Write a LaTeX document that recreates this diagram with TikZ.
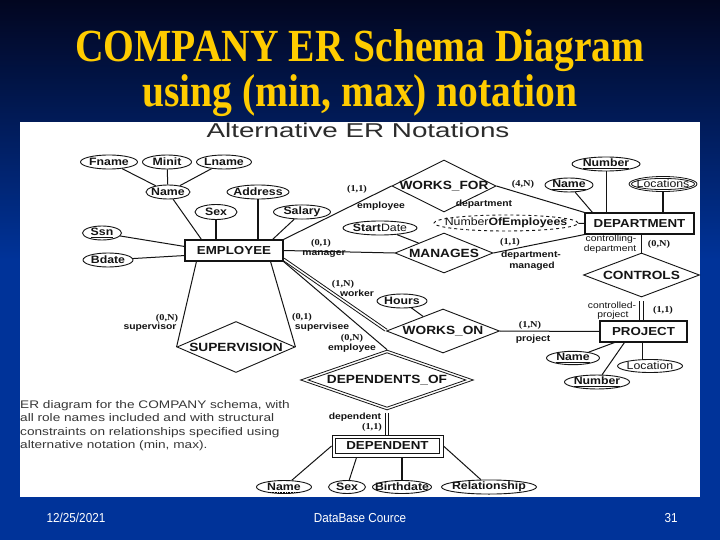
\documentclass[tikz,border=0pt]{standalone}
\usepackage{fontspec}
\setmainfont{Liberation Serif}
\setsansfont{Liberation Sans}
\usetikzlibrary{shapes.geometric}
\definecolor{bgtop}{RGB}{2,6,32}
\definecolor{bgblue}{RGB}{0,51,153}
\definecolor{ttl}{RGB}{255,204,0}
\definecolor{ink}{RGB}{20,20,20}
\newcommand{\hs}[1]{\scalebox{1.15}[1]{#1}}
\newcommand{\zb}[1]{\makebox[0pt]{\hs{#1}}}
\begin{document}
\begin{tikzpicture}[x=1pt,y=-1pt,
  ln/.style={line width=1pt, draw=ink},
  ent/.style={draw=ink, line width=1.1pt, rectangle, inner sep=0, text=ink, font=\sffamily\bfseries\fontsize{11.6}{13}\selectfont},
  rel/.style={draw=ink, line width=0.9pt, diamond, inner sep=0, text=ink, font=\sffamily\bfseries\fontsize{11.9}{13}\selectfont},
  attr/.style={draw=ink, line width=0.9pt, ellipse, inner sep=0, minimum height=14, text=ink, font=\sffamily\bfseries\fontsize{10.7}{12}\selectfont},
  role/.style={inner sep=0, text=ink, font=\sffamily\bfseries\fontsize{9}{10}\selectfont},
  rolen/.style={inner sep=0, text=ink, font=\sffamily\fontsize{9}{10}\selectfont},
  card/.style={inner sep=0, text=ink, font=\rmfamily\bfseries\fontsize{9}{10}\selectfont},
  foot/.style={inner sep=0, text=white, font=\sffamily\fontsize{13}{15}\selectfont}
]
\useasboundingbox (0,0) rectangle (720,540);
% background
\fill[bgblue] (0,0) rectangle (720,540);
\shade[top color=bgtop, bottom color=bgblue] (0,0) rectangle (720,260);
\fill[white] (20,122) rectangle (700,497);

% title
\node[inner sep=0, anchor=base, text=ttl, font=\rmfamily\bfseries\fontsize{46}{50}\selectfont] (t1) at (360,62) {\scalebox{0.86}[1]{COMPANY ER Schema Diagram}};
\node[inner sep=0, anchor=base, text=ttl, font=\rmfamily\bfseries\fontsize{46}{50}\selectfont] (t2) at (360,107) {\scalebox{0.86}[1]{using (min, max) notation}};

% header
\node[inner sep=0, anchor=base, text=ink!90, font=\sffamily\fontsize{20}{22}\selectfont] (hdr) at (358,138) {\scalebox{1.39}[1]{Alternative ER Notations}};

% entities
\node[ent, minimum width=98, minimum height=21] (emp) at (234,250.5) {\zb{EMPLOYEE}};
\node[ent, minimum width=109, minimum height=21] (dept) at (639.5,223.5) {\zb{DEPARTMENT}};
\node[ent, minimum width=87, minimum height=21] (proj) at (643.5,331.5) {\zb{PROJECT}};
\node[ent, line width=0.9pt, minimum width=111, minimum height=22] (dep) at (387.5,446) {};
\node[ent, line width=0.9pt, minimum width=104, minimum height=15] (depi) at (387.5,446) {\zb{DEPENDENT}};

% relationships
\node[rel, minimum width=104, minimum height=52] (wf) at (444,186) {\zb{WORKS\_FOR}};
\node[rel, minimum width=98, minimum height=40] (mg) at (444,253) {\zb{MANAGES}};
\node[rel, minimum width=116, minimum height=44] (ct) at (641.5,275) {\zb{CONTROLS}};
\node[rel, minimum width=113, minimum height=44] (wo) at (443,331) {\zb{WORKS\_ON}};
\node[rel, minimum width=118, minimum height=51] (sv) at (236,347) {\zb{SUPERVISION}};
\node[rel, line width=0.8pt, minimum width=173, minimum height=60] (do) at (387,380) {};
\node[rel, line width=0.8pt, minimum width=158, minimum height=54.7] (doi) at (387,380) {\zb{DEPENDENTS\_OF}};

% attributes
\node[attr, minimum width=57] (fn) at (109,162) {\zb{Fname}};
\node[attr, minimum width=49] (mi) at (167,162) {\zb{Minit}};
\node[attr, minimum width=55] (lnm) at (224,162) {\zb{Lname}};
\node[attr, minimum width=44] (en) at (168,192) {\zb{Name}};
\node[attr, minimum width=62] (ad) at (258,192) {\zb{Address}};
\node[attr, minimum width=42, minimum height=15] (es) at (216,212) {\zb{Sex}};
\node[attr, minimum width=57] (sal) at (302,212) {\zb{Salary}};
\node[attr, minimum width=39] (ssn) at (102,233) {\zb{\underline{Ssn}}};
\node[attr, minimum width=50] (bd) at (108,260) {\zb{Bdate}};
\node[attr, minimum width=68] (dnum) at (606,164) {\zb{\underline{Number}}};
\node[attr, minimum width=48] (dnm) at (569,185) {\zb{\underline{Name}}};
\node[attr, line width=0.8pt, minimum width=68, minimum height=15] (loc) at (663,184) {};
\node[attr, line width=0.8pt, minimum width=63, minimum height=10.5] (loci) at (663,184) {\zb{\mdseries Locations}};
\node[attr, dashed, minimum width=144, minimum height=16] (noe) at (506,223) {\zb{\mdseries Number\bfseries OfEmployees}};
\node[attr, minimum width=74] (sd) at (380,228) {\zb{Start\mdseries Date}};
\node[attr, minimum width=50] (hr) at (402,301) {\zb{Hours}};
\node[attr, minimum width=53, minimum height=13] (pnm) at (573,358) {\zb{\underline{Name}}};
\node[attr, minimum width=65, minimum height=13] (ploc) at (650,366) {\zb{\mdseries Location}};
\node[attr, minimum width=65, minimum height=13] (pnum) at (597,382) {\zb{\underline{Number}}};
\node[attr, minimum width=55, minimum height=13] (dnme) at (284,487) {\zb{Name}};
\node[attr, minimum width=37, minimum height=13] (dsex) at (347,487) {\zb{Sex}};
\node[attr, minimum width=59, minimum height=13] (dbd) at (402,487) {\zb{Birthdate}};
\node[attr, minimum width=95, minimum height=13] (drel) at (489,487) {\zb{Relationship}};
\draw[densely dotted, line width=0.6pt] ([xshift=-14,yshift=-5]dnme.center) -- ([xshift=14,yshift=-5]dnme.center);

% attribute links
\draw[ln] (fn) -- (en);
\draw[ln] (mi) -- (en);
\draw[ln] (lnm) -- (en);
\draw[ln] (en) -- ([xshift=17]emp.north west);
\draw[ln, line width=1.2pt] (es) -- (es |- emp.north);
\draw[ln, line width=1.2pt] (ad) -- (ad |- emp.north);
\draw[ln] (sal) -- ([xshift=-11]emp.north east);
\draw[ln] (ssn) -- ([yshift=-7]emp.north west);
\draw[ln] (bd) -- ([yshift=6]emp.south west);
\draw[ln] (dnm) -- ([xshift=8]dept.north west);
\draw[ln] (dnum) -- (dnum |- dept.north);
\draw[ln, line width=1.2pt] (loc) -- (loc |- dept.north);
\draw[ln] (noe) -- (dept.west);
\draw[ln] (sd) -- (mg);
\draw[ln] (hr) -- (wo);
\draw[ln] (pnm) -- ([xshift=15]proj.south west);
\draw[ln] (pnum) -- ([xshift=25]proj.south west);
\draw[ln, line width=1.2pt] ([xshift=43]proj.south west) -- ([xshift=43]proj.south west |- ploc.north);
\draw[ln] (dep.west) -- (dnme);
\draw[ln] ([xshift=25]dep.south west) -- (dsex);
\draw[ln, line width=1.2pt] (dbd.north |- dep.south) -- (dbd.north);
\draw[ln] (dep.east) -- (drel);

% relationship links
\draw[ln] (emp.north east) -- (wf.west);
\draw[ln] (wf.east) -- (dept.north west);
\draw[ln] (emp.east) -- (mg.west);
\draw[ln] (mg.east) -- (dept.south west);
\draw[ln, line width=1.2pt] (ct) -- (ct |- dept.south);
\draw[ln] ([xshift=-1.7,yshift=-4]ct.south) -- ([xshift=-1.7]ct.south |- proj.north);
\draw[ln] ([xshift=1.7,yshift=-4]ct.south) -- ([xshift=1.7]ct.south |- proj.north);
\draw[ln, line width=0.8pt] ([xshift=-0.4,yshift=1]emp.south east) -- ([xshift=-1.2]wo.west);
\draw[ln, line width=0.8pt] ([xshift=0.6,yshift=3.4]emp.south east) -- ([xshift=1.2,yshift=1.6]wo.west);
\draw[ln] (wo.east) -- (proj.west);
\draw[ln] (emp.south east) -- (do.north);
\draw[ln] ([xshift=-1.7,yshift=-3]do.south) -- ([xshift=-1.7]do.south |- dep.north);
\draw[ln] ([xshift=1.7,yshift=-3]do.south) -- ([xshift=1.7]do.south |- dep.north);
\draw[ln] ([xshift=12]emp.south west) -- (sv.west);
\draw[ln] ([xshift=-13]emp.south east) -- (sv.east);

% cardinalities
\node[card] (c1) at (357,189) {\hs{(1,1)}};
\node[card] (c2) at (523,184) {\hs{(4,N)}};
\node[card] (c3) at (321,243) {\hs{(0,1)}};
\node[card] (c4) at (510,242) {\hs{(1,1)}};
\node[card] (c5) at (659,244) {\hs{(0,N)}};
\node[card] (c6) at (663,310) {\hs{(1,1)}};
\node[card] (c7) at (343,284) {\hs{(1,N)}};
\node[card] (c8) at (530,325) {\hs{(1,N)}};
\node[card] (c9) at (352,338) {\hs{(0,N)}};
\node[card] (c10) at (302,317) {\hs{(0,1)}};
\node[card] (c11) at (167,318) {\hs{(0,N)}};
\node[card] (c12) at (372,427) {\hs{(1,1)}};

% role names
\node[role] (r1) at (381,206) {\hs{employee}};
\node[role] (r2) at (484,204) {\hs{department}};
\node[role] (r3) at (324,254) {\hs{manager}};
\node[role] (r4) at (531,255) {\hs{department-}};
\node[role] (r5) at (532,266) {\hs{managed}};
\node[rolen] (r6) at (611,239) {\hs{controlling-}};
\node[rolen] (r7) at (610,249) {\hs{department}};
\node[rolen] (r8) at (612,305) {\hs{controlled-}};
\node[rolen] (r9) at (613,315) {\hs{project}};
\node[role] (r10) at (357,293) {\hs{worker}};
\node[role] (r11) at (533,339) {\hs{project}};
\node[role] (r12) at (322,327) {\hs{supervisee}};
\node[role] (r13) at (150,327) {\hs{supervisor}};
\node[role] (r14) at (352,348) {\hs{employee}};
\node[role] (r15) at (355,417) {\hs{dependent}};

% caption
\node[inner sep=0, anchor=north west, text=ink!85, font=\sffamily\fontsize{11}{13.4}\selectfont] (cap) at (20,399)
 {\scalebox{1.24}[1]{\begin{tabular}{@{}l@{}}ER diagram for the COMPANY schema, with\\ all role names included and with structural\\ constraints on relationships specified using\\ alternative notation (min, max).\end{tabular}}};

% footer
\node[foot] (f1) at (76,518) {\scalebox{0.9}[1]{12/25/2021}};
\node[foot] (f2) at (360,518) {\scalebox{0.9}[1]{DataBase Cource}};
\node[foot] (f3) at (671,518) {\scalebox{0.9}[1]{31}};
\end{tikzpicture}
\end{document}
